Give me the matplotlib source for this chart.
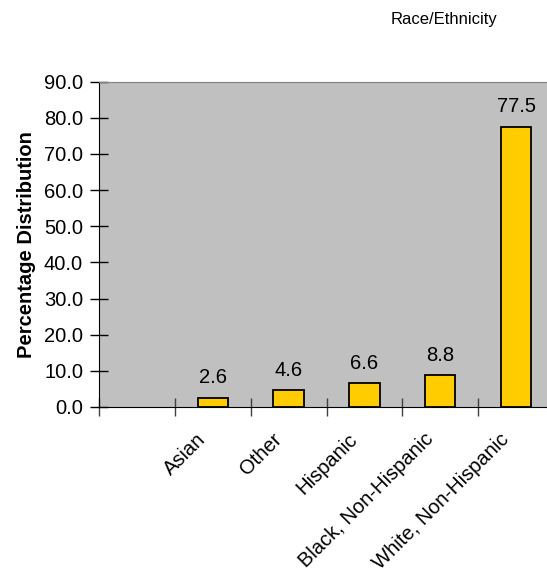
import matplotlib.pyplot as plt
import matplotlib.transforms as mtransforms
import numpy as np

plt.rcParams['font.family'] = ['Liberation Sans', 'DejaVu Sans']

# race / ethnicity distribution (percent)
categories = ['Asian', 'Other', 'Hispanic', 'Black, Non-Hispanic', 'White, Non-Hispanic']
values = [2.6, 4.6, 6.6, 8.8, 77.5]
yticks = np.arange(0, 91, 10)

fig = plt.figure(figsize=(5.47, 5.81), dpi=100)
W, H = 547, 581
ax = fig.add_axes([99 / W, 1 - 407 / H, (554 - 99) / W, (407 - 81.5) / H])
ax.set_facecolor('#C0C0C0')

pos = np.arange(1, len(categories) + 1)
bars = ax.bar(pos, values, width=0.4, color='#FFCC00', edgecolor='black', linewidth=1.3, zorder=3)

for x, v in zip(pos, values):
    ax.annotate('%.1f' % v, (x, v), xytext=(0, 10.5), textcoords='offset points',
                ha='center', va='baseline', fontsize=14.5)

ax.set_xlim(-0.5, 5.5)
ax.set_ylim(0, 90)
ax.set_yticks(yticks)
ax.set_yticklabels(['%.1f' % t for t in yticks], fontsize=14.5)
ax.tick_params(axis='y', direction='inout', length=13, width=1, pad=5)

# tick marks sit between the slots, labels in the middle
ax.set_xticks(np.arange(-0.5, 6, 1.0))
ax.set_xticklabels([])
ax.tick_params(axis='x', which='major', direction='inout', length=13, width=1, color='#404040')
ax.set_xticks(pos, minor=True)
ax.set_xticklabels(categories, minor=True, fontsize=14.5)
ax.tick_params(axis='x', which='minor', length=0, pad=24)
shift = mtransforms.ScaledTranslation(-6 / 100, 0, fig.dpi_scale_trans)
for lbl in ax.get_xticklabels(minor=True):
    lbl.set_rotation(45)
    lbl.set_ha('right')
    lbl.set_va('baseline')
    lbl.set_rotation_mode('anchor')
    lbl.set_transform(lbl.get_transform() + shift)

ax.set_ylabel('Percentage Distribution', fontsize=14.5, fontweight='bold', labelpad=6)

ax.spines['top'].set_color('#808080')
ax.spines['right'].set_color('#808080')
ax.spines['left'].set_color('black')
ax.spines['bottom'].set_color('black')

fig.text(444 / W, 1 - 24 / H, 'Race/Ethnicity', ha='center', va='baseline', fontsize=12)

fig.savefig('out.png', dpi=100)
